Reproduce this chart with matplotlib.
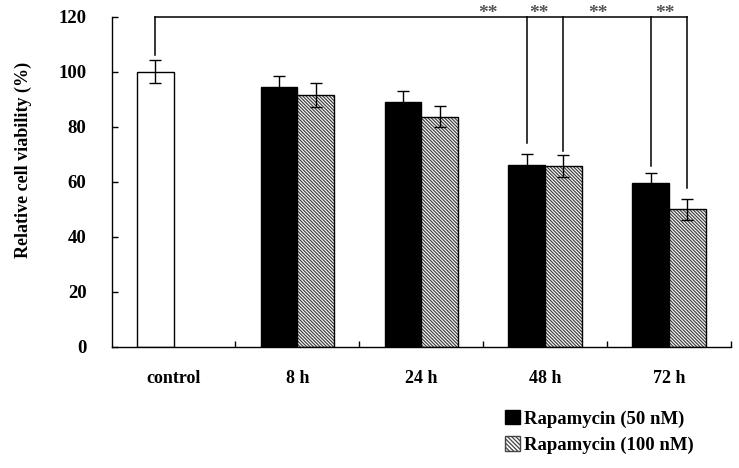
import numpy as np
import matplotlib
matplotlib.use('Agg')
import matplotlib.pyplot as plt
from matplotlib.patches import Patch

# data
categories = ['control', '8 h', '24 h', '48 h', '72 h']
control_val = 100.0
control_err = 4.2
rapa50 = [94.5, 89.0, 66.2, 59.5]
rapa50_err = [4.0, 4.0, 4.0, 3.8]
rapa100 = [91.5, 83.7, 65.6, 50.0]
rapa100_err = [4.3, 3.8, 4.0, 3.8]
legend_labels = ['Rapamycin (50 nM)', 'Rapamycin (100 nM)']

plt.rcParams['font.family'] = ['Liberation Serif', 'DejaVu Serif']
plt.rcParams['font.weight'] = 'bold'
plt.rcParams['hatch.linewidth'] = 0.9

fig = plt.figure(figsize=(7.39, 4.68), dpi=100)
ax = fig.add_axes([0.151, 0.259, 0.838, 0.705])

w = 0.296
x = np.arange(len(categories))
xt = x[1:]
HATCH = '\\' * 10

# control bar
ax.bar(-w / 2, control_val, w, color='white', edgecolor='black', linewidth=1.0, zorder=2)
# 50 nM
ax.bar(xt - w / 2, rapa50, w, color='black', edgecolor='black', linewidth=1.0, zorder=2)
# 100 nM hatched
ax.bar(xt + w / 2, rapa100, w, color='white', edgecolor='#444444', hatch=HATCH,
       linewidth=0, zorder=2)
ax.bar(xt + w / 2, rapa100, w, fill=False, edgecolor='black', linewidth=1.0, zorder=3)

ekw = dict(fmt='none', ecolor='black', elinewidth=1.0, capsize=4, capthick=1.0, zorder=4)
ax.errorbar([-w / 2], [control_val], yerr=[control_err], **ekw)
ax.errorbar(xt - w / 2, rapa50, yerr=rapa50_err, **ekw)
ax.errorbar(xt + w / 2, rapa100, yerr=rapa100_err, **ekw)

# significance brackets
top = 120
lk = dict(color='black', lw=1.1, clip_on=False, zorder=5)
ax.plot([-w / 2, -w / 2], [106, top], **lk)
ax.plot([-w / 2, 4 + w / 2], [top, top], **lk)
drops = [(3 - w / 2, 74), (3 + w / 2, 71.3), (4 - w / 2, 65.8), (4 + w / 2, 57.6)]
for dx, dy in drops:
    ax.plot([dx, dx], [dy, top], **lk)
for sx in [2.54, 2.95, 3.43, 3.97]:
    ax.text(sx, top - 2.0, '**', ha='center', va='bottom', fontsize=14,
            color='#555555', clip_on=False)

ax.set_xlim(-0.5, 4.5)
ax.set_ylim(0, 120)
ax.set_yticks(np.arange(0, 121, 20))
ax.set_xticks(x)
ax.set_xticklabels(categories)
ax.set_xticks(np.arange(0.5, 4.6, 1.0), minor=True)
ax.tick_params(axis='x', which='major', length=0, pad=17, labelsize=13)
ax.tick_params(axis='x', which='minor', direction='in', length=4, width=1)
ax.tick_params(axis='y', direction='in', length=4, width=1, pad=18, labelsize=13.5)

for s in ['top', 'right']:
    ax.spines[s].set_visible(False)
for s in ['left', 'bottom']:
    ax.spines[s].set_linewidth(1.0)

ax.set_ylabel('Relative cell viability (%)', fontsize=13, fontweight='bold')
ax.yaxis.set_label_coords(-0.129, 0.565)

handles = [Patch(facecolor='black', edgecolor='black'),
           Patch(facecolor='white', edgecolor='#444444', hatch='\\' * 8)]
fig.legend(handles, legend_labels, loc='upper left', bbox_to_anchor=(0.670, 0.144),
           frameon=False, fontsize=13.5, handlelength=0.8, handleheight=0.8,
           handletextpad=0.25, labelspacing=0.45, borderpad=0)

fig.savefig('out.png', dpi=100)
